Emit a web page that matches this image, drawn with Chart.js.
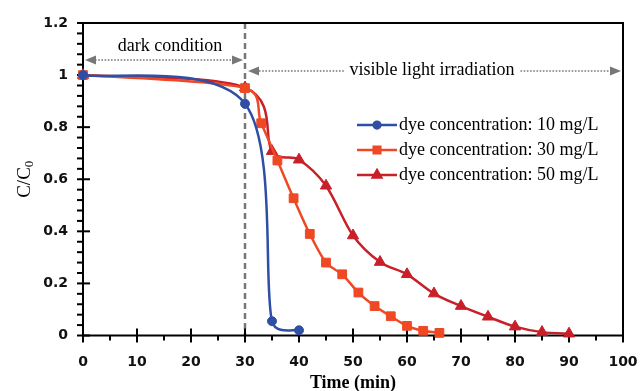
<!DOCTYPE html>
<html>
<head>
<meta charset="utf-8">
<script src="https://cdn.jsdelivr.net/npm/chart.js@4.4.0/dist/chart.umd.min.js"></script>
<style>
  html, body { margin: 0; padding: 0; background: #fff; }
  #wrap { width: 640px; height: 391px; }
</style>
</head>
<body>
<div id="wrap"><canvas id="chart" width="640" height="391"></canvas></div>
<script>
// time (min) and C/C0 for each dye concentration
const time10 = [0, 30, 35, 40];
const ratio10 = [1.0, 0.89, 0.055, 0.02];

const time30 = [0, 30, 33, 36, 39, 42, 45, 48, 51, 54, 57, 60, 63, 66];
const ratio30 = [1.0, 0.95, 0.815, 0.672, 0.527, 0.39, 0.28, 0.235, 0.165, 0.113, 0.074, 0.037, 0.018, 0.01];

const time50 = [0, 30, 35, 40, 45, 50, 55, 60, 65, 70, 75, 80, 85, 90];
const ratio50 = [1.0, 0.952, 0.708, 0.675, 0.575, 0.384, 0.282, 0.235, 0.161, 0.113, 0.072, 0.034, 0.013, 0.007];

const seriesLabels = [
  "dye concentration: 10 mg/L",
  "dye concentration: 30 mg/L",
  "dye concentration: 50 mg/L",
];
const darkEnd = 30;

const BLUE = "#2F4FA5";
const ORANGE = "#EF4824";
const DARKRED = "#C81F29";
const SERIF = "'Liberation Serif', 'Times New Roman', serif";
const SANS = "'DejaVu Sans', Verdana, sans-serif";

function pts(xs, ys) {
  return xs.map((x, i) => ({ x: x, y: ys[i] }));
}

// spreadsheet-like smoothing: handles of 1/6 of neighbour span, capped
function smoothControlPoints(points) {
  const n = points.length;
  for (let i = 0; i < n; i++) {
    const p = points[i];
    const prev = points[Math.max(i - 1, 0)];
    const next = points[Math.min(i + 1, n - 1)];
    let tx = (next.x - prev.x) / 6;
    let ty = (next.y - prev.y) / 6;
    const tl = Math.hypot(tx, ty) || 1;
    const dPrev = Math.hypot(p.x - prev.x, p.y - prev.y);
    const dNext = Math.hypot(next.x - p.x, next.y - p.y);
    const kIn = Math.min(1, (0.5 * dPrev) / tl);
    const kOut = Math.min(1, (0.5 * dNext) / tl);
    p.cp1x = p.x - tx * kIn;
    p.cp1y = p.y - ty * kIn;
    p.cp2x = p.x + tx * kOut;
    p.cp2y = p.y + ty * kOut;
  }
}

// axes, ticks, box, dashed line, arrows, legend
const decor = {
  id: "decor",
  beforeDatasetsDraw(chart) {
    const { ctx, chartArea: a, scales } = chart;
    const xs = scales.x, ys = scales.y;

    chart.data.datasets.forEach((d, i) => {
      const meta = chart.getDatasetMeta(i);
      meta.dataset.updateControlPoints(a, meta.indexAxis);
      smoothControlPoints(meta.data);
    });

    ctx.save();
    // dashed divider at end of dark period
    const xd = xs.getPixelForValue(darkEnd);
    ctx.strokeStyle = "#777";
    ctx.lineWidth = 2.5;
    ctx.setLineDash([6, 4]);
    ctx.beginPath();
    ctx.moveTo(xd, a.top);
    ctx.lineTo(xd, a.bottom);
    ctx.stroke();
    ctx.setLineDash([]);

    // box
    ctx.strokeStyle = "#000";
    ctx.lineWidth = 2;
    ctx.strokeRect(a.left, a.top, a.right - a.left, a.bottom - a.top);

    // x ticks
    for (let v = 0; v <= 100; v += 5) {
      const px = xs.getPixelForValue(v);
      ctx.beginPath();
      if (v % 10 === 0) {
        ctx.moveTo(px, a.bottom - 7);
        ctx.lineTo(px, a.bottom + 7);
      } else {
        ctx.moveTo(px, a.bottom);
        ctx.lineTo(px, a.bottom + 5);
      }
      ctx.stroke();
    }
    // y ticks
    for (let i = 0; i <= 30; i++) {
      const py = ys.getPixelForValue(i * 0.04);
      ctx.beginPath();
      if (i % 5 === 0) {
        ctx.moveTo(a.left - 6, py);
        ctx.lineTo(a.left + 7, py);
      } else {
        ctx.moveTo(a.left - 6, py);
        ctx.lineTo(a.left, py);
      }
      ctx.stroke();
    }
    ctx.restore();
  },
  afterDraw(chart) {
    const { ctx, chartArea: a, scales } = chart;
    const xs = scales.x;
    ctx.save();

    // y title C/C0
    ctx.translate(25, (a.top + a.bottom) / 2);
    ctx.rotate(-Math.PI / 2);
    ctx.fillStyle = "#000";
    ctx.textBaseline = "middle";
    ctx.font = "19px " + SERIF;
    const main = "C/C";
    const wMain = ctx.measureText(main).width;
    ctx.font = "13px " + SERIF;
    const wSub = ctx.measureText("0").width;
    const start = -(wMain + wSub) / 2;
    ctx.font = "19px " + SERIF;
    ctx.textAlign = "left";
    ctx.fillText(main, start, 0);
    ctx.font = "13px " + SERIF;
    ctx.fillText("0", start + wMain, 5);
    ctx.setTransform(1, 0, 0, 1, 0, 0);

    // period arrows
    const xd = xs.getPixelForValue(darkEnd);
    const grey = "#777";
    function arrowHead(x, y, dir) {
      ctx.fillStyle = grey;
      ctx.beginPath();
      ctx.moveTo(x, y);
      ctx.lineTo(x - dir * 11, y - 4.5);
      ctx.lineTo(x - dir * 11, y + 4.5);
      ctx.closePath();
      ctx.fill();
    }
    function dotted(x1, x2, y) {
      ctx.strokeStyle = grey;
      ctx.lineWidth = 1.6;
      ctx.setLineDash([1.6, 1.6]);
      ctx.beginPath();
      ctx.moveTo(x1, y);
      ctx.lineTo(x2, y);
      ctx.stroke();
      ctx.setLineDash([]);
    }
    const yDark = 60;
    dotted(a.left + 12, xd - 12, yDark);
    arrowHead(a.left + 2, yDark, -1);
    arrowHead(xd - 2, yDark, 1);

    ctx.font = "18px " + SERIF;
    ctx.fillStyle = "#000";
    ctx.textAlign = "center";
    ctx.textBaseline = "middle";
    ctx.fillText("dark condition", 170, 46);

    const yLight = 71;
    const lightText = "visible light irradiation";
    const lx = 432;
    const lw = ctx.measureText(lightText).width;
    ctx.fillText(lightText, lx, yLight - 1);
    dotted(xd + 14, lx - lw / 2 - 5, yLight);
    dotted(lx + lw / 2 + 6, a.right - 12, yLight);
    arrowHead(xd + 3, yLight, -1);
    arrowHead(a.right - 2, yLight, 1);

    // legend
    const ds = chart.data.datasets;
    const rows = [125, 150, 175];
    ctx.textAlign = "left";
    ctx.font = "18px " + SERIF;
    ds.forEach((d, i) => {
      const y = rows[i];
      ctx.strokeStyle = d.borderColor;
      ctx.lineWidth = 2.5;
      ctx.beginPath();
      ctx.moveTo(357, y);
      ctx.lineTo(397, y);
      ctx.stroke();
      Chart.helpers.drawPoint(ctx, {
        pointStyle: d.pointStyle,
        radius: d.pointRadius * 0.75,
        borderWidth: 1,
      }, 377, y);
      ctx.fillStyle = d.borderColor;
      ctx.fill();
      ctx.fillStyle = "#000";
      ctx.fillText(d.label, 399, y);
    });
    ctx.restore();
  },
};

function series(label, xs, ys, color, style, r) {
  return {
    label: label,
    data: pts(xs, ys),
    borderColor: color,
    backgroundColor: color,
    pointBackgroundColor: color,
    pointBorderColor: color,
    pointStyle: style,
    pointRadius: r,
    pointBorderWidth: 1,
    borderWidth: 2.5,
    tension: 0.4,
    showLine: true,
    clip: false,
  };
}

new Chart(document.getElementById("chart"), {
  type: "scatter",
  data: {
    datasets: [
      series(seriesLabels[0], time10, ratio10, BLUE, "circle", 4.5),
      series(seriesLabels[1], time30, ratio30, ORANGE, "rect", 6.2),
      series(seriesLabels[2], time50, ratio50, DARKRED, "triangle", 6.5),
    ],
  },
  options: {
    responsive: false,
    animation: false,
    layout: { padding: { top: 23, right: 17, left: 0, bottom: 0 } },
    plugins: {
      legend: { display: false },
      tooltip: { enabled: false },
    },
    scales: {
      x: {
        type: "linear",
        min: 0,
        max: 100,
        grid: { display: false },
        border: { display: false },
        ticks: {
          stepSize: 10,
          padding: 10,
          color: "#111",
          font: { family: SANS, size: 14, weight: "bold" },
        },
        title: {
          display: true,
          text: "Time (min)",
          color: "#000",
          padding: { top: 0, bottom: -3 },
          font: { family: SERIF, size: 18, weight: "bold" },
        },
        afterFit(scale) {
          scale.height = 55.5;
          scale.paddingLeft = 0;
          scale.paddingRight = 0;
        },
      },
      y: {
        min: 0,
        max: 1.2,
        grid: { display: false },
        border: { display: false },
        ticks: {
          stepSize: 0.2,
          padding: 7,
          color: "#111",
          font: { family: SANS, size: 14, weight: "bold" },
          callback: (v) => String(Number(v.toFixed(2))),
        },
        afterFit(scale) {
          scale.width = 83;
          scale.paddingTop = 0;
          scale.paddingBottom = 0;
        },
      },
    },
  },
  plugins: [decor],
});
</script>
</body>
</html>
